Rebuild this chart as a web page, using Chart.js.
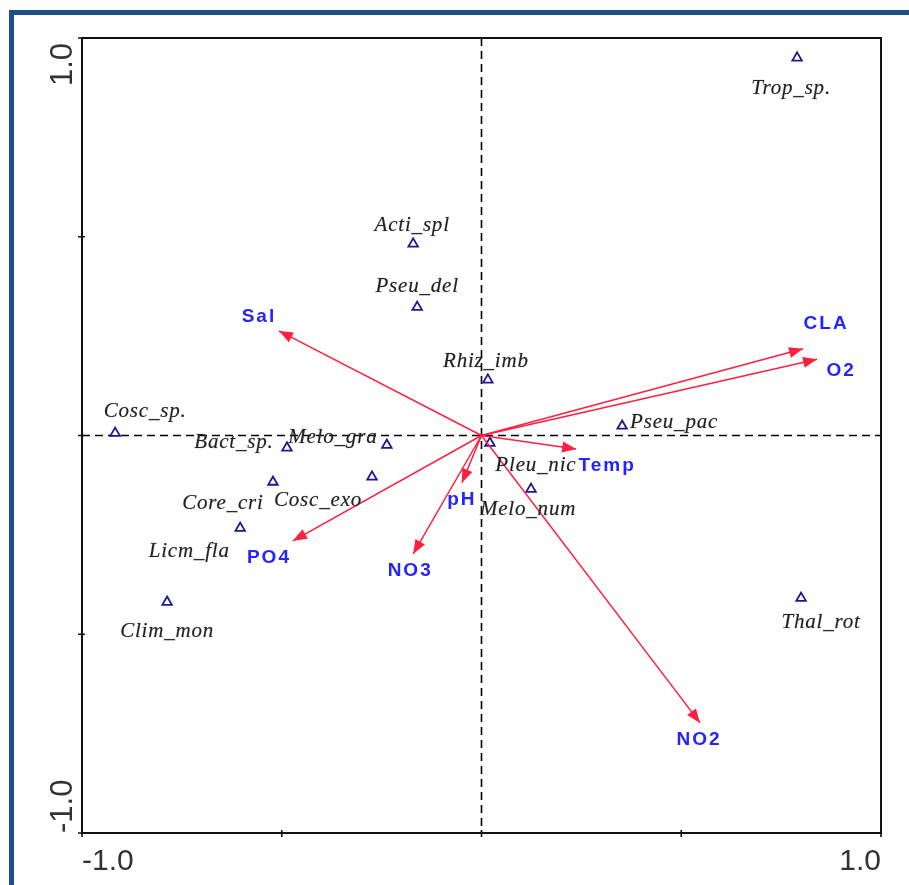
<!DOCTYPE html>
<html>
<head>
<meta charset="utf-8">
<script src="https://cdn.jsdelivr.net/npm/chart.js@4.4.1/dist/chart.umd.min.js"></script>
<style>
  html, body { margin: 0; padding: 0; background: #ffffff; }
  #wrap { width: 909px; height: 885px; }
</style>
</head>
<body>
<div id="wrap"><canvas id="cca" width="909" height="885"></canvas></div>
<script>
// Species scores (axis 1, axis 2)
const speciesNames = ['Trop_sp.', 'Acti_spl', 'Pseu_del', 'Rhiz_imb', 'Cosc_sp.', 'Bact_sp.', 'Melo_gra',
  'Cosc_exo', 'Core_cri', 'Licm_fla', 'Clim_mon', 'Pseu_pac', 'Pleu_nic', 'Melo_num', 'Thal_rot'];
const speciesX = [0.790, -0.171, -0.161, 0.016, -0.917, -0.487, -0.237,
  -0.274, -0.522, -0.604, -0.787, 0.352, 0.021, 0.124, 0.800];
const speciesY = [0.950, 0.482, 0.323, 0.140, 0.006, -0.031, -0.024,
  -0.104, -0.117, -0.233, -0.419, 0.024, -0.019, -0.135, -0.409];

// Environmental variable vectors
const envNames = ['Sal', 'CLA', 'O2', 'Temp', 'pH', 'NO3', 'PO4', 'NO2'];
const envX = [-0.507, 0.805, 0.840, 0.237, -0.049, -0.171, -0.472, 0.547];
const envY = [0.263, 0.218, 0.192, -0.034, -0.119, -0.298, -0.265, -0.723];

// Axis ticks
const tickValues = [-1.0, -0.5, 0, 0.5, 1.0];
const tickLabels = ['-1.0', '', '', '', '1.0'];

// Label placement (pixel offsets from the marker / arrow tip)
const speciesLabelOffset = [[-6, 36], [-1, -13], [0, -15], [-2, -13], [30, -16], [-53, 0], [-54, -2],
  [-54, 29], [-50, 27], [-51, 29], [0, 35], [52, 2], [46, 28], [-3, 26], [20, 30]];
const envLabelOffset = [[-20, -9], [23, -20], [24, 17], [31, 22], [0, 22], [-3, 22], [-24, 22], [-1, 22]];

const ARROW_COLOR = '#ff1f3f';
const ENV_TEXT = '#2424ff';
const SPECIES_TEXT = '#222222';
const POINT_COLOR = '#1a1a94';

const speciesData = speciesX.map((x, i) => ({ x, y: speciesY[i] }));
const arrowSets = envNames.map((name, i) => ({
  label: name,
  data: [{ x: 0, y: 0 }, { x: envX[i], y: envY[i] }],
  showLine: true,
  borderColor: ARROW_COLOR,
  borderWidth: 1.5,
  pointRadius: 0,
  fill: false
}));

const framePlugin = {
  id: 'frame',
  beforeDraw(chart) {
    const ctx = chart.ctx;
    ctx.save();
    ctx.fillStyle = '#ffffff';
    ctx.fillRect(0, 0, chart.width, chart.height);
    // outer blue frame
    ctx.strokeStyle = '#1d4e8a';
    ctx.lineWidth = 5;
    ctx.strokeRect(11.5, 12.5, chart.width + 20, chart.height + 20);
    ctx.restore();
  },
  beforeDatasetsDraw(chart) {
    const ctx = chart.ctx;
    const xs = chart.scales.x, ys = chart.scales.y;
    const x0 = xs.getPixelForValue(0), y0 = ys.getPixelForValue(0);
    const a = chart.chartArea;
    ctx.save();
    ctx.strokeStyle = '#000000';
    ctx.lineWidth = 1.6;
    ctx.setLineDash([8, 5]);
    ctx.beginPath();
    ctx.moveTo(x0, a.top); ctx.lineTo(x0, a.bottom);
    ctx.moveTo(a.left, y0); ctx.lineTo(a.right, y0);
    ctx.stroke();
    ctx.restore();
  },
  afterDatasetsDraw(chart) {
    const ctx = chart.ctx;
    const xs = chart.scales.x, ys = chart.scales.y;
    const a = chart.chartArea;
    const ox = xs.getPixelForValue(0), oy = ys.getPixelForValue(0);

    // arrow heads
    ctx.save();
    ctx.fillStyle = ARROW_COLOR;
    envNames.forEach((n, i) => {
      const tx = xs.getPixelForValue(envX[i]), ty = ys.getPixelForValue(envY[i]);
      const ang = Math.atan2(ty - oy, tx - ox);
      const len = 14, hw = 5.5;
      ctx.beginPath();
      ctx.moveTo(tx, ty);
      ctx.lineTo(tx - len * Math.cos(ang) + hw * Math.sin(ang), ty - len * Math.sin(ang) - hw * Math.cos(ang));
      ctx.lineTo(tx - len * Math.cos(ang) - hw * Math.sin(ang), ty - len * Math.sin(ang) + hw * Math.cos(ang));
      ctx.closePath();
      ctx.fill();
    });
    ctx.restore();

    // species labels
    ctx.save();
    ctx.font = 'italic 21px "Liberation Serif", "DejaVu Serif", serif';
    ctx.letterSpacing = '0.8px';
    ctx.fillStyle = SPECIES_TEXT;
    ctx.strokeStyle = 'rgba(34,34,34,0.35)';
    ctx.lineWidth = 0.5;
    ctx.textAlign = 'center';
    ctx.textBaseline = 'alphabetic';
    speciesNames.forEach((n, i) => {
      const px = xs.getPixelForValue(speciesX[i]), py = ys.getPixelForValue(speciesY[i]);
      const lx = px + speciesLabelOffset[i][0], ly = py + speciesLabelOffset[i][1];
      ctx.fillText(n, lx, ly);
      ctx.strokeText(n, lx, ly);
    });
    ctx.restore();

    // environmental labels
    ctx.save();
    ctx.font = 'bold 19px "Liberation Sans", Arial, sans-serif';
    ctx.letterSpacing = '2px';
    ctx.fillStyle = ENV_TEXT;
    ctx.textAlign = 'center';
    ctx.textBaseline = 'alphabetic';
    envNames.forEach((n, i) => {
      const px = xs.getPixelForValue(envX[i]), py = ys.getPixelForValue(envY[i]);
      ctx.fillText(n, px + envLabelOffset[i][0], py + envLabelOffset[i][1]);
    });
    ctx.restore();

    // plot box
    ctx.save();
    ctx.strokeStyle = '#111111';
    ctx.lineWidth = 2;
    ctx.strokeRect(a.left, a.top, a.right - a.left, a.bottom - a.top);
    // tick marks
    ctx.lineWidth = 1.6;
    ctx.beginPath();
    tickValues.forEach(v => {
      const px = xs.getPixelForValue(v);
      ctx.moveTo(px, a.bottom - 3); ctx.lineTo(px, a.bottom + 4);
      const py = ys.getPixelForValue(v);
      ctx.moveTo(a.left - 4, py); ctx.lineTo(a.left + 3, py);
    });
    ctx.stroke();

    // tick labels
    ctx.fillStyle = '#333333';
    ctx.font = '30px "Liberation Sans", Arial, sans-serif';
    ctx.textBaseline = 'alphabetic';
    tickValues.forEach((v, i) => {
      const t = tickLabels[i];
      if (!t) return;
      const px = xs.getPixelForValue(v);
      ctx.textAlign = i === 0 ? 'left' : 'right';
      ctx.fillText(t, px, a.bottom + 37);
    });
    ctx.font = '31px "Liberation Sans", Arial, sans-serif';
    tickValues.forEach((v, i) => {
      const t = tickLabels[i];
      if (!t) return;
      const py = ys.getPixelForValue(v);
      ctx.save();
      ctx.translate(a.left - 10, i === 0 ? py : py + 5);
      ctx.rotate(-Math.PI / 2);
      ctx.textAlign = i === 0 ? 'left' : 'right';
      ctx.fillText(t, 0, 0);
      ctx.restore();
    });
    ctx.restore();
  }
};

new Chart(document.getElementById('cca'), {
  type: 'scatter',
  data: {
    datasets: [
      ...arrowSets,
      {
        label: 'species',
        data: speciesData,
        pointStyle: 'triangle',
        pointRadius: 5.5,
        pointBorderWidth: 1.8,
        pointBorderColor: POINT_COLOR,
        pointBackgroundColor: '#ffffff',
        showLine: false
      }
    ]
  },
  options: {
    responsive: false,
    animation: false,
    layout: { padding: { left: 82, top: 38, right: 28, bottom: 52 } },
    scales: {
      x: { type: 'linear', min: -1, max: 1, display: false },
      y: { type: 'linear', min: -1, max: 1, display: false }
    },
    plugins: { legend: { display: false }, tooltip: { enabled: false } }
  },
  plugins: [framePlugin]
});
</script>
</body>
</html>
